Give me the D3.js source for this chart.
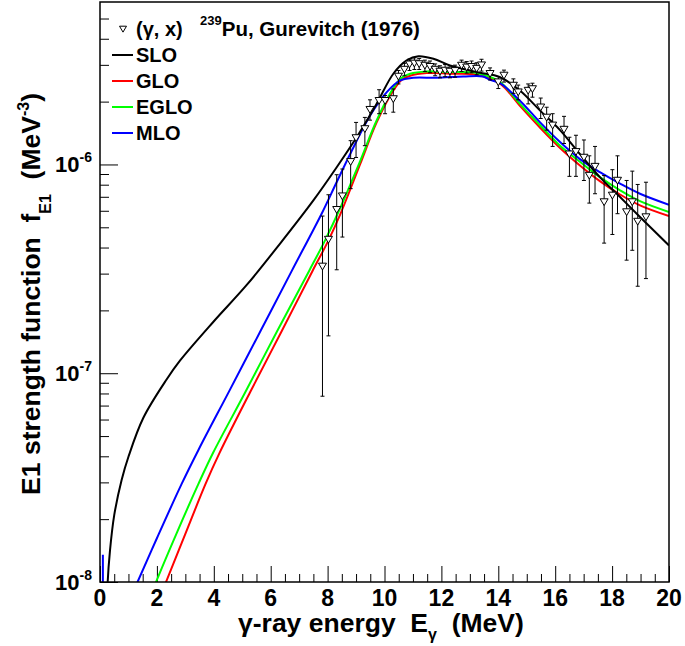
<!DOCTYPE html>
<html>
<head>
<meta charset="utf-8">
<script src="https://cdn.jsdelivr.net/npm/d3@7"></script>
<style>
  body { margin: 0; background: #fff; }
  svg { display: block; }
  text { font-family: "Liberation Sans", Arial, Helvetica, sans-serif; font-weight: bold; fill: #000; }
</style>
</head>
<body>
<div class="chartDiv"></div>
<script>

// -----------------------Data--------------------------------//

// model curves: gamma energy (MeV) and strength f_E1 (MeV^-3)
let sloE = [0.2, 0.27, 0.35, 0.5, 0.76, 1.0, 1.52, 2.34, 2.81, 3.98, 5.15, 6.33, 7.5, 8.32, 9.02, 9.72, 10.31, 10.78, 11.19, 11.72, 12.3, 13.0, 13.36, 14.06, 14.76, 15.47, 16.17, 16.87, 17.57, 18.28, 18.98, 20];
let sloF = [3.98e-9, 1.0e-8, 1.41e-8, 2.09e-8, 3.08e-8, 3.98e-8, 6.10e-8, 9.33e-8, 1.148e-7, 1.76e-7, 2.64e-7, 4.18e-7, 6.73e-7, 9.70e-7, 1.35e-6, 1.95e-6, 2.72e-6, 3.15e-6, 3.30e-6, 3.21e-6, 2.98e-6, 2.82e-6, 2.75e-6, 2.62e-6, 2.26e-6, 1.81e-6, 1.46e-6, 1.12e-6, 8.69e-7, 6.98e-7, 5.60e-7, 4.09e-7];

let gloE = [2.15, 2.32, 3.0, 3.71, 4.19, 5.28, 6.38, 7.47, 8.03, 8.44, 9.14, 9.72, 10.31, 10.6, 10.9, 11.48, 12.3, 13.24, 14.06, 14.76, 15.47, 16.17, 16.87, 17.57, 18.28, 18.98, 20];
let gloF = [8.7e-9, 1.0e-8, 1.70e-8, 2.95e-8, 4.12e-8, 8.13e-8, 1.585e-7, 3.09e-7, 4.33e-7, 5.75e-7, 1.0e-6, 1.585e-6, 2.26e-6, 2.54e-6, 2.66e-6, 2.74e-6, 2.72e-6, 2.69e-6, 2.44e-6, 1.91e-6, 1.50e-6, 1.20e-6, 9.89e-7, 8.32e-7, 7.18e-7, 6.37e-7, 5.66e-7];

let egloE = [1.8, 1.97, 2.7, 3.46, 3.98, 5.11, 6.22, 7.35, 7.91, 8.44, 9.14, 9.72, 10.31, 10.6, 10.9, 11.48, 12.3, 13.24, 14.06, 14.76, 15.47, 16.17, 16.87, 17.57, 18.28, 18.98, 20];
let egloF = [8.7e-9, 1.0e-8, 1.72e-8, 2.95e-8, 4.17e-8, 8.13e-8, 1.585e-7, 3.09e-7, 4.33e-7, 6.17e-7, 1.035e-6, 1.62e-6, 2.32e-6, 2.60e-6, 2.72e-6, 2.79e-6, 2.77e-6, 2.74e-6, 2.48e-6, 1.95e-6, 1.54e-6, 1.23e-6, 1.03e-6, 8.69e-7, 7.52e-7, 6.67e-7, 5.92e-7];

let mloE = [1.1, 1.32, 2.0, 2.87, 3.46, 4.56, 5.66, 6.75, 7.79, 8.3, 8.79, 9.49, 10.08, 10.54, 11.01, 11.83, 12.77, 13.47, 13.71, 14.06, 14.76, 15.47, 16.17, 16.87, 17.57, 18.28, 18.98, 20];
let mloF = [8.5e-9, 1.0e-8, 1.62e-8, 2.95e-8, 4.29e-8, 8.30e-8, 1.61e-7, 3.11e-7, 5.81e-7, 8.13e-7, 1.12e-6, 1.71e-6, 2.22e-6, 2.52e-6, 2.60e-6, 2.60e-6, 2.64e-6, 2.64e-6, 2.54e-6, 2.45e-6, 2.02e-6, 1.59e-6, 1.28e-6, 1.06e-6, 9.18e-7, 8.09e-7, 7.24e-7, 6.41e-7];
// little MLO spike at the very low end
let mloLowE = [0.1, 0.11];
let mloLowF = [1.35e-8, 1.0e-9];

// (gamma, x) data, 239Pu, Gurevitch (1976)
let dataE = [7.82, 8.03, 8.32, 8.52, 8.81, 9.0, 9.31, 9.49, 9.81, 10.02, 10.31, 10.49, 10.7, 10.88, 11.05, 11.22, 11.42, 11.6, 11.78, 11.95, 12.13, 12.3, 12.48, 12.71, 12.89, 13.06, 13.24, 13.41, 13.71, 14.0, 14.2, 14.53, 14.7, 15.05, 15.2, 15.49, 15.7, 15.91, 16.31, 16.5, 16.73, 17.01, 17.2, 17.4, 17.72, 18.01, 18.19, 18.51, 18.71, 18.9, 19.19];
let dataF = [3.25e-7, 4.37e-7, 6.07e-7, 7.05e-7, 1.03e-6, 1.34e-6, 1.48e-6, 1.83e-6, 2.02e-6, 2.02e-6, 2.06e-6, 2.64e-6, 2.85e-6, 3.02e-6, 3.05e-6, 3.03e-6, 2.98e-6, 2.94e-6, 2.85e-6, 2.79e-6, 2.82e-6, 2.79e-6, 2.81e-6, 2.98e-6, 2.92e-6, 2.94e-6, 2.88e-6, 2.99e-6, 2.72e-6, 2.48e-6, 2.67e-6, 2.39e-6, 2.22e-6, 2.26e-6, 2.30e-6, 1.88e-6, 1.68e-6, 1.54e-6, 1.47e-6, 1.12e-6, 1.15e-6, 1.08e-6, 8.85e-7, 9.77e-7, 6.61e-7, 7.11e-7, 8.38e-7, 5.92e-7, 6.61e-7, 5.33e-7, 5.60e-7];
let dataLo = [7.76e-8, 1.51e-7, 3.13e-7, 4.49e-7, 7.66e-7, 1.08e-6, 1.23e-6, 1.63e-6, 1.75e-6, 1.75e-6, 1.78e-6, 2.43e-6, 2.66e-6, 2.82e-6, 2.85e-6, 2.85e-6, 2.79e-6, 2.75e-6, 2.66e-6, 2.60e-6, 2.63e-6, 2.60e-6, 2.62e-6, 2.79e-6, 2.74e-6, 2.75e-6, 2.69e-6, 2.80e-6, 2.54e-6, 2.31e-6, 2.48e-6, 2.19e-6, 2.04e-6, 1.95e-6, 2.10e-6, 1.66e-6, 1.46e-6, 1.22e-6, 1.26e-6, 8.77e-7, 8.77e-7, 8.38e-7, 6.53e-7, 7.24e-7, 4.20e-7, 4.62e-7, 5.81e-7, 3.48e-7, 3.88e-7, 2.61e-7, 2.84e-7];
let dataHi = [5.66e-7, 7.16e-7, 8.93e-7, 9.51e-7, 1.30e-6, 1.59e-6, 1.68e-6, 2.04e-6, 2.28e-6, 2.14e-6, 2.30e-6, 2.82e-6, 3.05e-6, 3.20e-6, 3.24e-6, 3.22e-6, 3.16e-6, 3.13e-6, 3.03e-6, 2.97e-6, 3.01e-6, 2.97e-6, 2.99e-6, 3.16e-6, 3.11e-6, 3.13e-6, 3.07e-6, 3.19e-6, 2.90e-6, 2.64e-6, 2.83e-6, 2.57e-6, 2.40e-6, 2.43e-6, 2.45e-6, 2.08e-6, 1.88e-6, 1.75e-6, 1.70e-6, 1.35e-6, 1.38e-6, 1.31e-6, 1.10e-6, 1.22e-6, 8.85e-7, 9.44e-7, 1.10e-6, 8.38e-7, 9.29e-7, 8.02e-7, 8.22e-7];

// ticks
let xMajorTicks = [0, 2, 4, 6, 8, 10, 12, 14, 16, 18, 20];
let yMajorTicks = [1e-8, 1e-7, 1e-6];
let yMajorExp = ["-8", "-7", "-6"];

// -----------------------Setup--------------------------------//

let margin = {top: 2, right: 16, bottom: 64, left: 100},
    svgW = 685, svgH = 646,
    width = svgW - margin.left - margin.right,
    height = svgH - margin.top - margin.bottom;

let x = d3.scaleLinear().domain([0, 20]).range([0, width]);
let y = d3.scaleLog().domain([1e-8, 6e-6]).range([height, 0]);

let svg = d3.select(".chartDiv").append("svg")
    .attr("width", svgW)
    .attr("height", svgH)
    .style("background-color", "white");

let g = svg.append("g")
    .attr("transform", "translate(" + margin.left + "," + margin.top + ")");

g.append("clipPath").attr("id", "frameClip")
  .append("rect")
    .attr("x", 0).attr("y", 0)
    .attr("width", width).attr("height", height);

// x ticks (inward), major + minor
let xMinor = d3.range(0, 20.01, 0.5).filter(v => v % 2 !== 0);
let xAxisMajor = d3.axisBottom(x).tickValues(xMajorTicks).tickSizeInner(-16).tickSizeOuter(0).tickFormat("");
let xAxisMinor = d3.axisBottom(x).tickValues(xMinor).tickSizeInner(-8).tickSizeOuter(0).tickFormat("");
g.append("g").attr("transform", "translate(0," + height + ")").call(xAxisMajor);
g.append("g").attr("transform", "translate(0," + height + ")").call(xAxisMinor);

// y ticks (inward), major + minor
let yMinor = [];
[1e-8, 1e-7, 1e-6].forEach(dec => {
  for (let k = 2; k <= 9; k++) {
    if (k * dec < 6e-6) yMinor.push(k * dec);
  }
});
let yAxisMajor = d3.axisLeft(y).tickValues(yMajorTicks).tickSizeInner(-18).tickSizeOuter(0).tickFormat("");
let yAxisMinor = d3.axisLeft(y).tickValues(yMinor).tickSizeInner(-9).tickSizeOuter(0).tickFormat("");
g.append("g").call(yAxisMajor);
g.append("g").call(yAxisMinor);

g.selectAll(".domain").remove();
g.selectAll(".tick line").attr("stroke", "#000").attr("stroke-width", 1);

// x tick labels
g.selectAll(".xLabel")
  .data(xMajorTicks)
  .enter().append("text")
    .attr("class", "xLabel")
    .attr("x", d => x(d))
    .attr("y", height + 24)
    .attr("text-anchor", "middle")
    .style("font-size", "23px")
    .text(d => d);

// y tick labels 10^n
let yLab = g.selectAll(".yLabel")
  .data(yMajorTicks)
  .enter().append("text")
    .attr("class", "yLabel")
    .attr("x", -8)
    .attr("y", d => y(d) + 8)
    .attr("text-anchor", "end")
    .style("font-size", "22px");
yLab.append("tspan").text("10");
yLab.append("tspan")
    .attr("dy", -10)
    .style("font-size", "14px")
    .text((d, i) => yMajorExp[i]);

// -----------------------Curves--------------------------------//

let line = d3.line()
    .x(d => x(d[0]))
    .y(d => y(d[1]))
    .curve(d3.curveCatmullRom.alpha(0.5));

let plot = g.append("g").attr("clip-path", "url(#frameClip)");

let series = [
  {name: "SLO", e: sloE, f: sloF, color: "#000000"},
  {name: "GLO", e: gloE, f: gloF, color: "#ff0000"},
  {name: "EGLO", e: egloE, f: egloF, color: "#00ff00"},
  {name: "MLO", e: mloE, f: mloF, color: "#0000ff"}
];

// draw order: red, green, blue, black on top
[1, 2, 3, 0].forEach(i => {
  let s = series[i];
  plot.append("path")
    .datum(s.e.map((e, j) => [e, s.f[j]]))
    .attr("fill", "none")
    .attr("stroke", s.color)
    .attr("stroke-width", 2)
    .attr("d", line);
});

plot.append("path")
  .datum(mloLowE.map((e, j) => [e, mloLowF[j]]))
  .attr("fill", "none")
  .attr("stroke", "#0000ff")
  .attr("stroke-width", 2)
  .attr("d", d3.line().x(d => x(d[0])).y(d => y(d[1])));

// -----------------------Data points--------------------------------//

let pts = dataE.map((e, i) => ({e: e, f: dataF[i], lo: dataLo[i], hi: dataHi[i]}));

let bars = plot.selectAll(".errBar")
  .data(pts)
  .enter().append("g")
    .attr("class", "errBar")
    .attr("stroke", "#000")
    .attr("stroke-width", 1);
bars.append("line")
    .attr("x1", d => x(d.e)).attr("x2", d => x(d.e))
    .attr("y1", d => y(d.hi)).attr("y2", d => y(d.lo));
bars.append("line")
    .attr("x1", d => x(d.e) - 2).attr("x2", d => x(d.e) + 2)
    .attr("y1", d => y(d.hi)).attr("y2", d => y(d.hi));
bars.append("line")
    .attr("x1", d => x(d.e) - 2).attr("x2", d => x(d.e) + 2)
    .attr("y1", d => y(d.lo)).attr("y2", d => y(d.lo));

let tri = (cx, cy, s) => "M" + (cx - s) + "," + (cy - s * 0.8) +
    "L" + (cx + s) + "," + (cy - s * 0.8) +
    "L" + cx + "," + (cy + s * 0.9) + "Z";

plot.selectAll(".marker")
  .data(pts)
  .enter().append("path")
    .attr("class", "marker")
    .attr("d", d => tri(x(d.e), y(d.f), 4))
    .attr("fill", "white")
    .attr("stroke", "#000")
    .attr("stroke-width", 1);

// frame
g.append("rect")
    .attr("x", 0).attr("y", 0)
    .attr("width", width).attr("height", height)
    .attr("fill", "none")
    .attr("stroke", "#000")
    .attr("stroke-width", 1.5);

// -----------------------Legend--------------------------------//

svg.append("path")
    .attr("d", tri(123, 29, 3.5))
    .attr("fill", "white")
    .attr("stroke", "#000")
    .attr("stroke-width", 1);

svg.append("text")
    .attr("x", 136).attr("y", 36)
    .style("font-size", "20px")
    .text("(γ, x)");

let titleTxt = svg.append("text")
    .attr("x", 200).attr("y", 36)
    .style("font-size", "20.5px");
titleTxt.append("tspan").attr("dy", -11).style("font-size", "13px").text("239");
titleTxt.append("tspan").attr("dy", 11).text("Pu, Gurevitch (1976)");

let legendRows = [
  {name: "SLO", color: "#000000", y: 55},
  {name: "GLO", color: "#ff0000", y: 81},
  {name: "EGLO", color: "#00ff00", y: 107},
  {name: "MLO", color: "#0000ff", y: 133}
];
legendRows.forEach(r => {
  svg.append("line")
    .attr("x1", 112).attr("x2", 133)
    .attr("y1", r.y).attr("y2", r.y)
    .attr("stroke", r.color)
    .attr("stroke-width", 2);
  svg.append("text")
    .attr("x", 136).attr("y", r.y + 7)
    .style("font-size", "20px")
    .text(r.name);
});

// -----------------------Axis titles--------------------------------//

let xTitle = svg.append("text")
    .attr("x", 238).attr("y", 632)
    .style("font-size", "26.5px")
    .style("white-space", "pre");
xTitle.append("tspan").text("γ-ray energy  E");
xTitle.append("tspan").attr("dy", 8).style("font-size", "16px").text("γ");
xTitle.append("tspan").attr("dy", -8).text("  (MeV)");

let yTitle = svg.append("text")
    .attr("transform", "translate(40,93) rotate(-90)")
    .attr("text-anchor", "end")
    .style("font-size", "26.5px")
    .style("white-space", "pre");
yTitle.append("tspan").text("E1 strength function  f");
yTitle.append("tspan").attr("dy", 11).style("font-size", "16px").text("E1");
yTitle.append("tspan").attr("dy", -11).text("  (MeV");
yTitle.append("tspan").attr("dy", -11).style("font-size", "16px").text("-3");
yTitle.append("tspan").attr("dy", 11).text(")");

</script>
</body>
</html>
